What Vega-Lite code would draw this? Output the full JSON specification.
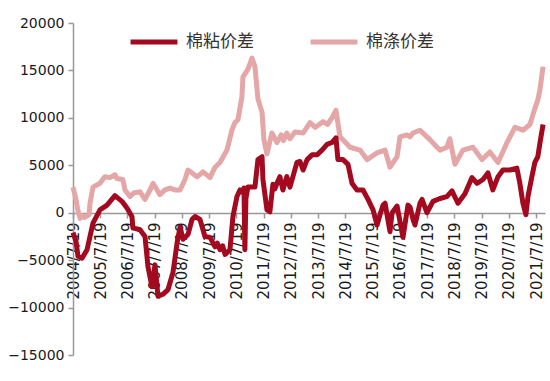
{
  "$schema": "https://vega.github.io/schema/vega-lite/v6.json",
  "width": 472,
  "height": 332,
  "autosize": {"type": "none"},
  "padding": {"left": 73, "top": 23, "right": 5, "bottom": 26},
  "background": "white",
  "config": {"view": {"stroke": null}, "font": "DejaVu Sans"},
  "datasets": {
    "a": [
      {"date": "2004-07-19", "v": -2100}, {"date": "2004-08-28", "v": -3000}, {"date": "2004-09-24", "v": -4600},
      {"date": "2004-11-17", "v": -4800}, {"date": "2005-01-23", "v": -3900}, {"date": "2005-04-13", "v": -1100},
      {"date": "2005-07-15", "v": 300}, {"date": "2005-10-18", "v": 800}, {"date": "2006-02-01", "v": 1800},
      {"date": "2006-05-06", "v": 1200}, {"date": "2006-07-12", "v": 500}, {"date": "2006-09-17", "v": -400},
      {"date": "2006-09-30", "v": -1600}, {"date": "2007-01-03", "v": -1800}, {"date": "2007-03-11", "v": -2500},
      {"date": "2007-04-20", "v": -5700}, {"date": "2007-06-13", "v": -7800}, {"date": "2007-07-23", "v": -5500},
      {"date": "2007-09-01", "v": -8800}, {"date": "2007-11-06", "v": -8600}, {"date": "2008-01-14", "v": -8100},
      {"date": "2008-03-20", "v": -6300}, {"date": "2008-05-14", "v": -3200}, {"date": "2008-06-23", "v": -1500},
      {"date": "2008-08-02", "v": -2800}, {"date": "2008-10-07", "v": -2300}, {"date": "2008-12-01", "v": -700},
      {"date": "2009-01-10", "v": -400}, {"date": "2009-03-17", "v": -700}, {"date": "2009-05-23", "v": -2500},
      {"date": "2009-07-30", "v": -2600}, {"date": "2009-10-05", "v": -3600}, {"date": "2009-11-05", "v": -3200},
      {"date": "2009-12-10", "v": -3900}, {"date": "2010-01-15", "v": -3500},
      {"date": "2010-02-17", "v": -4400}, {"date": "2010-04-23", "v": -3900}, {"date": "2010-06-02", "v": -400},
      {"date": "2010-07-26", "v": 1700}, {"date": "2010-09-04", "v": 2400}, {"date": "2010-09-30", "v": 2200},
      {"date": "2010-10-28", "v": 2600}, {"date": "2010-11-09", "v": -3900}, {"date": "2010-11-23", "v": 1500},
      {"date": "2010-12-19", "v": 2700}, {"date": "2011-03-24", "v": 2700}, {"date": "2011-05-03", "v": 5600},
      {"date": "2011-06-27", "v": 5900}, {"date": "2011-07-09", "v": 3500}, {"date": "2011-09-01", "v": 300},
      {"date": "2011-10-10", "v": 100}, {"date": "2011-11-20", "v": 3000}, {"date": "2011-12-16", "v": 2500},
      {"date": "2012-01-13", "v": 3100}, {"date": "2012-02-21", "v": 3800}, {"date": "2012-04-02", "v": 2400},
      {"date": "2012-05-24", "v": 3800}, {"date": "2012-07-05", "v": 2700}, {"date": "2012-08-14", "v": 3800},
      {"date": "2012-10-07", "v": 5300}, {"date": "2012-11-17", "v": 5400}, {"date": "2012-12-28", "v": 4500},
      {"date": "2013-02-20", "v": 5600}, {"date": "2013-04-27", "v": 6100}, {"date": "2013-07-02", "v": 6100},
      {"date": "2013-09-08", "v": 6600}, {"date": "2013-11-14", "v": 7200}, {"date": "2014-01-19", "v": 7400},
      {"date": "2014-03-14", "v": 7900}, {"date": "2014-04-09", "v": 5600}, {"date": "2014-06-16", "v": 5600},
      {"date": "2014-08-22", "v": 5100}, {"date": "2014-10-15", "v": 3100}, {"date": "2014-12-20", "v": 2400},
      {"date": "2015-03-11", "v": 2400}, {"date": "2015-05-18", "v": 1400}, {"date": "2015-07-24", "v": 300},
      {"date": "2015-09-16", "v": -1300}, {"date": "2015-10-26", "v": -200}, {"date": "2015-12-05", "v": 800},
      {"date": "2016-01-01", "v": 1000}, {"date": "2016-03-07", "v": -2000}, {"date": "2016-04-04", "v": 0},
      {"date": "2016-06-10", "v": 700}, {"date": "2016-08-28", "v": -2600}, {"date": "2016-11-03", "v": 800},
      {"date": "2016-12-01", "v": 600}, {"date": "2017-01-10", "v": -700}, {"date": "2017-02-05", "v": -1300},
      {"date": "2017-04-13", "v": 1000}, {"date": "2017-05-11", "v": 1400}, {"date": "2017-07-15", "v": 0},
      {"date": "2017-10-04", "v": 1200}, {"date": "2018-01-07", "v": 1500}, {"date": "2018-04-08", "v": 1700},
      {"date": "2018-06-16", "v": 2300}, {"date": "2018-09-04", "v": 1000}, {"date": "2018-12-07", "v": 2000},
      {"date": "2019-03-11", "v": 3700}, {"date": "2019-05-18", "v": 3100}, {"date": "2019-08-06", "v": 3500},
      {"date": "2019-10-11", "v": 4200}, {"date": "2019-12-16", "v": 2400}, {"date": "2020-02-23", "v": 3800},
      {"date": "2020-04-29", "v": 4500}, {"date": "2020-08-02", "v": 4500}, {"date": "2020-11-02", "v": 4700},
      {"date": "2020-12-12", "v": 3100}, {"date": "2021-01-22", "v": 1000}, {"date": "2021-03-03", "v": -200},
      {"date": "2021-03-31", "v": 1700}, {"date": "2021-05-22", "v": 3800}, {"date": "2021-07-01", "v": 5300},
      {"date": "2021-08-10", "v": 5900}, {"date": "2021-09-08", "v": 7400}, {"date": "2021-10-19", "v": 9300}
    ],
    "b": [
      {"date": "2004-07-19", "v": 2700}, {"date": "2004-08-28", "v": 1400}, {"date": "2004-09-24", "v": 200},
      {"date": "2004-10-22", "v": -600}, {"date": "2004-11-17", "v": -300}, {"date": "2004-12-20", "v": -500},
      {"date": "2005-02-20", "v": -200}, {"date": "2005-03-04", "v": 1000}, {"date": "2005-04-13", "v": 2700},
      {"date": "2005-07-15", "v": 3100}, {"date": "2005-09-19", "v": 3800}, {"date": "2005-11-27", "v": 3700},
      {"date": "2006-02-01", "v": 4000}, {"date": "2006-02-28", "v": 3600}, {"date": "2006-05-18", "v": 3500},
      {"date": "2006-06-16", "v": 2400}, {"date": "2006-08-21", "v": 1700}, {"date": "2006-10-15", "v": 2100},
      {"date": "2007-01-03", "v": 2200}, {"date": "2007-03-11", "v": 1400}, {"date": "2007-05-18", "v": 2400},
      {"date": "2007-06-27", "v": 3100}, {"date": "2007-09-27", "v": 1900}, {"date": "2007-12-04", "v": 2400},
      {"date": "2008-02-09", "v": 2600}, {"date": "2008-04-16", "v": 2400}, {"date": "2008-06-23", "v": 2400},
      {"date": "2008-08-28", "v": 3500}, {"date": "2008-10-07", "v": 4500}, {"date": "2009-02-06", "v": 3800},
      {"date": "2009-04-27", "v": 4300}, {"date": "2009-07-30", "v": 3700}, {"date": "2009-10-05", "v": 4800},
      {"date": "2009-12-10", "v": 5300}, {"date": "2010-03-14", "v": 6600}, {"date": "2010-05-19", "v": 8700},
      {"date": "2010-06-28", "v": 9500}, {"date": "2010-08-08", "v": 9800}, {"date": "2010-09-30", "v": 12200},
      {"date": "2010-10-14", "v": 14300}, {"date": "2010-12-19", "v": 15100}, {"date": "2011-02-12", "v": 16300},
      {"date": "2011-03-24", "v": 15400}, {"date": "2011-05-03", "v": 12000}, {"date": "2011-06-27", "v": 10600},
      {"date": "2011-07-22", "v": 7700}, {"date": "2011-09-01", "v": 6200}, {"date": "2011-11-06", "v": 8400},
      {"date": "2012-01-13", "v": 7400}, {"date": "2012-03-10", "v": 8200}, {"date": "2012-04-10", "v": 7600},
      {"date": "2012-05-24", "v": 8400}, {"date": "2012-07-05", "v": 7800}, {"date": "2012-09-10", "v": 8500},
      {"date": "2012-12-28", "v": 8400}, {"date": "2013-04-01", "v": 9500}, {"date": "2013-06-10", "v": 9000},
      {"date": "2013-09-21", "v": 9600}, {"date": "2013-11-20", "v": 9300},
      {"date": "2014-01-19", "v": 10000}, {"date": "2014-03-14", "v": 10800}, {"date": "2014-05-07", "v": 8000},
      {"date": "2014-09-19", "v": 6900}, {"date": "2015-01-30", "v": 6600}, {"date": "2015-05-04", "v": 5600},
      {"date": "2015-09-16", "v": 6300}, {"date": "2016-01-01", "v": 6600}, {"date": "2016-03-07", "v": 4800},
      {"date": "2016-06-10", "v": 5900}, {"date": "2016-07-19", "v": 8000}, {"date": "2016-10-22", "v": 8200},
      {"date": "2016-12-01", "v": 8000}, {"date": "2017-01-10", "v": 8400}, {"date": "2017-04-13", "v": 8700},
      {"date": "2017-07-15", "v": 8000}, {"date": "2017-08-25", "v": 7700}, {"date": "2017-11-27", "v": 6900},
      {"date": "2018-01-07", "v": 6600}, {"date": "2018-04-08", "v": 6900}, {"date": "2018-05-18", "v": 7800},
      {"date": "2018-07-26", "v": 5100}, {"date": "2018-11-09", "v": 6600}, {"date": "2019-03-25", "v": 6900},
      {"date": "2019-07-23", "v": 5600}, {"date": "2019-11-06", "v": 6400}, {"date": "2020-02-23", "v": 5300},
      {"date": "2020-06-23", "v": 7400}, {"date": "2020-10-07", "v": 9000}, {"date": "2021-01-22", "v": 8700},
      {"date": "2021-04-26", "v": 9300}, {"date": "2021-07-01", "v": 11000}, {"date": "2021-08-10", "v": 11900},
      {"date": "2021-09-08", "v": 13000}, {"date": "2021-10-19", "v": 15400}
    ]
  },
  "encoding": {
    "x": {
      "field": "date", "type": "temporal",
      "scale": {"type": "utc", "domain": [{"year": 2004, "month": 7, "date": 19, "utc": true}, {"year": 2021, "month": 11, "date": 14, "utc": true}]},
      "axis": {
        "title": null, "orient": "bottom", "offset": -142,
        "values": [
          {"year": 2004, "month": 7, "date": 19, "utc": true}, {"year": 2005, "month": 7, "date": 19, "utc": true},
          {"year": 2006, "month": 7, "date": 19, "utc": true}, {"year": 2007, "month": 7, "date": 19, "utc": true},
          {"year": 2008, "month": 7, "date": 19, "utc": true}, {"year": 2009, "month": 7, "date": 19, "utc": true},
          {"year": 2010, "month": 7, "date": 19, "utc": true}, {"year": 2011, "month": 7, "date": 19, "utc": true},
          {"year": 2012, "month": 7, "date": 19, "utc": true}, {"year": 2013, "month": 7, "date": 19, "utc": true},
          {"year": 2014, "month": 7, "date": 19, "utc": true}, {"year": 2015, "month": 7, "date": 19, "utc": true},
          {"year": 2016, "month": 7, "date": 19, "utc": true}, {"year": 2017, "month": 7, "date": 19, "utc": true},
          {"year": 2018, "month": 7, "date": 19, "utc": true}, {"year": 2019, "month": 7, "date": 19, "utc": true},
          {"year": 2020, "month": 7, "date": 19, "utc": true}, {"year": 2021, "month": 7, "date": 19, "utc": true}
        ],
        "labelExpr": "utcFormat(datum.value, '%Y/%-m/%-d')",
        "labelAngle": -90, "labelAlign": "right", "labelBaseline": "middle",
        "labelFontSize": 15, "labelColor": "#1a1a1a", "labelPadding": 4, "labelOverlap": false,
        "labelFlush": false, "grid": false,
        "domainColor": "#999999", "tickColor": "#999999", "tickSize": 5, "domainWidth": 1.5, "tickWidth": 1.5
      }
    }
  },
  "layer": [
    {
      "data": {"name": "b"},
      "transform": [{"calculate": "'棉涤价差'", "as": "s"}],
      "mark": {"type": "line", "strokeWidth": 5, "strokeJoin": "round"},
      "encoding": {
        "y": {"field": "v", "type": "quantitative"},
        "color": {"field": "s", "type": "nominal"}
      }
    },
    {
      "data": {"name": "a"},
      "transform": [{"calculate": "'棉粘价差'", "as": "s"}],
      "mark": {"type": "line", "strokeWidth": 5, "strokeJoin": "round"},
      "encoding": {
        "y": {
          "field": "v", "type": "quantitative",
          "scale": {"domain": [-15000, 20000], "nice": false, "zero": false},
          "axis": {
            "title": null, "values": [-15000, -10000, -5000, 0, 5000, 10000, 15000, 20000],
            "format": "d",
            "grid": false, "labelFontSize": 14, "labelColor": "#1a1a1a", "labelPadding": 4,
            "domainColor": "#999999", "tickColor": "#999999", "tickSize": 5, "domainWidth": 1.5, "tickWidth": 1.5
          }
        },
        "color": {
          "field": "s", "type": "nominal",
          "scale": {"domain": ["棉粘价差", "棉涤价差"], "range": ["#A3091F", "#E4A6A6"]},
          "legend": {
            "title": null, "orient": "none", "direction": "horizontal", "legendX": 55, "legendY": -7,
            "symbolType": "stroke", "symbolSize": 2200, "symbolStrokeWidth": 5,
            "labelFont": "Noto Sans CJK SC", "labelFontSize": 17, "labelColor": "#333333",
            "labelOffset": 6, "columnPadding": 46
          }
        }
      }
    }
  ]
}
